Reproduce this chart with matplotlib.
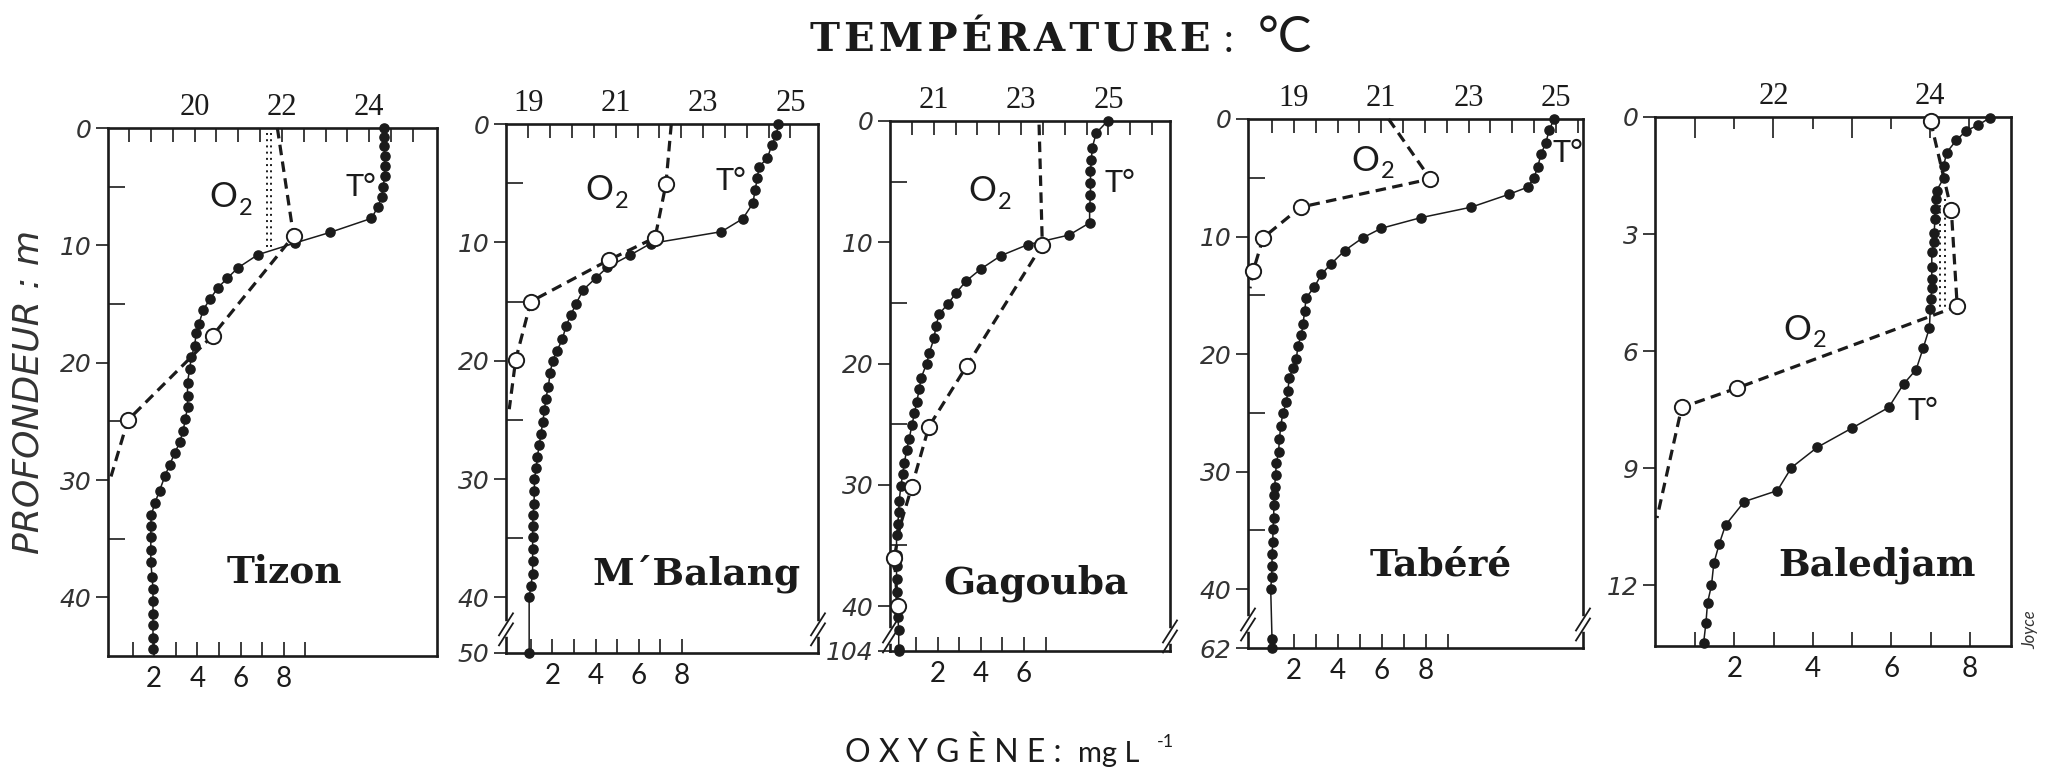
import numpy as np
import matplotlib
matplotlib.use("Agg")
import matplotlib.pyplot as plt
from matplotlib.lines import Line2D

INK = "#1b1b1b"
W, H = 2046, 773
SERIF = "DejaVu Serif"
NUMSERIF = "Liberation Serif"
SANS = "Lato"
OBL = "DejaVu Sans"

# ---------------- data: Tizon ----------------
tizon_t_depth = [0, 0.8, 1.5, 2.4, 3.2, 4.1, 5.0, 5.9, 6.7, 7.7,
                 8.9, 9.8, 10.8, 11.9, 12.8, 13.6, 14.6, 15.5, 16.7, 17.5,
                 18.6, 19.5, 20.5, 21.7, 22.8, 23.8, 24.8, 25.8, 26.8, 27.7,
                 28.7, 29.7, 30.9, 32.0, 33.0, 33.9, 34.9, 36.0, 37.0, 38.3,
                 39.3, 40.3, 41.4, 42.4, 43.5, 44.4]
tizon_temp = [24.34, 24.34, 24.34, 24.35, 24.35, 24.35, 24.32, 24.28, 24.2, 24.05,
              23.1, 22.3, 21.45, 21.0, 20.75, 20.54, 20.35, 20.2, 20.1, 20.04,
              20.0, 19.93, 19.89, 19.84, 19.84, 19.84, 19.79, 19.74, 19.66, 19.55,
              19.43, 19.32, 19.2, 19.09, 19.01, 19.0, 19.0, 19.0, 19.0, 19.03,
              19.05, 19.05, 19.05, 19.05, 19.05, 19.05]
tizon_o2_depth = [0, 9.2, 17.7, 24.9, 29.7]
tizon_o2 = [7.7, 8.45, 4.7, 0.78, 0.0]
tizon_o2_marked = [1, 2, 3]

# ---------------- data: M'Balang ----------------
mbalang_t_depth = [0, 0.9, 1.8, 2.9, 3.6, 4.6, 5.6, 6.7, 8.0, 9.1,
                   10.1, 11.1, 12.1, 13.0, 14.0, 15.2, 16.1, 17.1, 18.2, 19.2,
                   20.0, 21.0, 22.2, 23.2, 24.2, 25.2, 26.2, 27.1, 28.1, 29.1,
                   30.0, 31.0, 32.1, 33.0, 34.0, 34.9, 35.9, 36.9, 38.0, 39.0,
                   40.0, 50.0]
mbalang_temp = [24.72, 24.68, 24.57, 24.47, 24.28, 24.24, 24.19, 24.14, 23.91, 23.42,
                21.80, 21.32, 20.81, 20.55, 20.26, 20.09, 19.98, 19.86, 19.78, 19.65,
                19.56, 19.50, 19.46, 19.40, 19.37, 19.33, 19.29, 19.25, 19.21, 19.18,
                19.14, 19.14, 19.13, 19.11, 19.10, 19.10, 19.10, 19.10, 19.10, 19.06,
                19.02, 19.02]
mbalang_o2_depth = [0, 5.1, 9.6, 11.5, 15.0, 19.9, 24.1]
mbalang_o2 = [7.5, 7.25, 6.75, 4.6, 1.0, 0.3, 0.0]
mbalang_o2_marked = [1, 2, 3, 4, 5]

# ---------------- data: Gagouba ----------------
gagouba_t_depth = [0, 1.0, 2.2, 3.2, 4.1, 5.1, 6.1, 7.1, 8.4, 9.4,
                   10.2, 11.1, 12.2, 13.2, 14.2, 15.1, 15.9, 16.9, 17.9, 19.1,
                   20.0, 21.2, 22.1, 23.2, 24.1, 25.1, 26.2, 27.1, 28.2, 29.1,
                   30.1, 31.3, 32.2, 33.2, 34.1, 35.8, 36.7, 37.8, 38.8, 39.9,
                   40.9, 42.0, 95, 104]
gagouba_temp = [24.98, 24.72, 24.63, 24.61, 24.59, 24.59, 24.59, 24.57, 24.57, 24.1,
                23.15, 22.54, 22.08, 21.74, 21.51, 21.32, 21.13, 21.05, 21.01, 20.9,
                20.84, 20.71, 20.67, 20.61, 20.56, 20.5, 20.44, 20.38, 20.33, 20.29,
                20.25, 20.21, 20.2, 20.18, 20.15, 20.15, 20.15, 20.15, 20.15, 20.15,
                20.18, 20.2, 20.2, 20.2]
gagouba_o2_depth = [0.3, 10.2, 20.2, 25.2, 30.2, 33.5, 36.0, 40.0]
gagouba_o2 = [6.7, 6.85, 3.35, 1.6, 0.8, 0.25, 0.0, 0.15]
gagouba_o2_marked = [1, 2, 3, 4, 6, 7]

# ---------------- data: Tabéré ----------------
tabere_t_depth = [0, 0.9, 2.0, 3.0, 4.1, 5.0, 5.8, 6.4, 7.5, 8.4,
                  9.3, 10.1, 11.2, 12.3, 13.2, 14.3, 15.2, 16.3, 17.4, 18.4,
                  19.3, 20.4, 21.2, 22.0, 23.1, 24.1, 25.0, 26.1, 27.2, 28.3,
                  29.3, 30.3, 31.3, 32.0, 32.8, 33.9, 34.9, 36.0, 37.0, 38.0,
                  39.0, 40.0, 55, 62]
tabere_temp = [24.96, 24.85, 24.77, 24.66, 24.58, 24.50, 24.35, 23.93, 23.06, 21.90,
               21.0, 20.58, 20.16, 19.86, 19.63, 19.47, 19.28, 19.25, 19.21, 19.17,
               19.09, 19.06, 18.98, 18.9, 18.86, 18.83, 18.75, 18.7, 18.67, 18.65,
               18.6, 18.58, 18.56, 18.54, 18.54, 18.54, 18.52, 18.52, 18.5, 18.5,
               18.49, 18.47, 18.5, 18.5]
tabere_o2_depth = [0, 5.1, 7.5, 10.1, 12.9, 14.4]
tabere_o2 = [6.3, 8.2, 2.3, 0.6, 0.15, 0.0]
tabere_o2_marked = [1, 2, 3, 4]

# ---------------- data: Baledjam ----------------
baledjam_t_depth = [0.02, 0.21, 0.35, 0.6, 0.91, 1.26, 1.57, 1.89, 2.1, 2.36,
                    2.62, 2.97, 3.2, 3.46, 3.83, 4.14, 4.37, 4.65, 4.93, 5.4,
                    5.92, 6.47, 6.84, 7.44, 7.97, 8.46, 8.98, 9.57, 9.85, 10.45,
                    10.93, 11.43, 12.0, 12.44, 12.95, 13.47]
baledjam_temp = [24.76, 24.61, 24.46, 24.33, 24.21, 24.17, 24.17, 24.08, 24.07, 24.06,
                 24.06, 24.05, 24.05, 24.02, 24.02, 24.02, 24.02, 24.01, 24.0, 23.99,
                 23.91, 23.82, 23.66, 23.47, 23.0, 22.56, 22.23, 22.05, 21.63, 21.39,
                 21.31, 21.24, 21.21, 21.16, 21.14, 21.11]
baledjam_o2_depth = [0.1, 2.38, 4.85, 6.94, 7.44, 10.27]
baledjam_o2 = [7.0, 7.53, 7.68, 2.08, 0.66, 0.03]
baledjam_o2_marked = [0, 1, 2, 3, 4]

# ---------------- figure ----------------
fig = plt.figure(figsize=(W / 100, H / 100), dpi=100)
fig.patch.set_facecolor("white")


def px_rect(x0, x1, y0, y1):
    return [x0 / W, 1 - y1 / H, (x1 - x0) / W, (y1 - y0) / H]


def depth_scale(brk, shown, real):
    """Linear depth down to brk, then the deep part squeezed into shown-brk."""
    k = (shown - brk) / (real - brk)

    def fwd(d):
        d = np.asarray(d, float)
        return np.where(d <= brk, d, brk + (d - brk) * k)

    def inv(y):
        y = np.asarray(y, float)
        return np.where(y <= brk, y, brk + (y - brk) / k)

    return fwd, inv


def fmt(v):
    return str(int(round(v)))


def panel(rect, t_lim, t_ticks, t_named, o_lim, o_ticks, o_named,
          d_max, d_major, d_minor, brk=None, long_int=False):
    ax = fig.add_axes(rect)
    if brk is not None:
        ax.set_yscale("function", functions=depth_scale(*brk))
    ax.set_ylim(d_max, 0)
    ax.set_xlim(*t_lim)
    axo = ax.twiny()
    axo.set_xlim(*o_lim)
    ax.xaxis.tick_top()
    axo.xaxis.tick_bottom()

    # temperature scale on top
    t_ticks = np.asarray(t_ticks)
    ints = [v for v in t_ticks if abs(v - round(v)) < 1e-6]
    halves = [v for v in t_ticks if abs(v - round(v)) >= 1e-6]
    ax.set_xticks(ints)
    ax.set_xticklabels([fmt(v) if any(np.isclose(v, t_named)) else "" for v in ints],
                       fontfamily=NUMSERIF, fontsize=22, color=INK)
    ax.set_xticks(halves, minor=True)
    ax.tick_params(axis="x", which="major", direction="in", top=True, bottom=False,
                   length=15 if long_int else 10, width=1.2, color=INK, pad=4)
    ax.tick_params(axis="x", which="minor", direction="in", top=True, bottom=False,
                   length=8.5 if long_int else 10, width=1.2, color=INK)

    # oxygen scale at the bottom
    axo.set_xticks(o_ticks)
    axo.set_xticklabels([fmt(v) if v in o_named else "" for v in o_ticks],
                        fontfamily=SANS, fontsize=20, color=INK)
    axo.tick_params(axis="x", which="major", direction="in", bottom=True, top=False,
                    length=10, width=1.2, color=INK, pad=7)
    axo.xaxis.set_minor_locator(matplotlib.ticker.NullLocator())

    # depth
    d_vals = [v for v, _ in d_major]
    ax.set_yticks(d_vals)
    ax.set_yticklabels([s for _, s in d_major], fontfamily=OBL, style="italic",
                       fontsize=18, color="#333333")
    ax.set_yticks(d_minor, minor=True)
    ax.tick_params(axis="y", which="major", direction="out", left=True, right=False,
                   length=9, width=1.2, color=INK, pad=3)
    ax.tick_params(axis="y", which="minor", direction="in", left=True, right=False,
                   length=12, width=1.2, color=INK)

    for s in ax.spines.values():
        s.set_linewidth(1.9)
        s.set_color(INK)
    for s in axo.spines.values():
        s.set_visible(False)

    if brk is not None:
        b, shown, _ = brk
        fy = 1 - b / shown
        wpx = rect[2] * W
        hpx = rect[3] * H
        for xs in (0.0, 1.0):
            ax.add_line(Line2D([xs, xs], [fy - 5 / hpx, fy + 5 / hpx], transform=ax.transAxes,
                               color="white", lw=4, clip_on=False, zorder=6))
            for off in (-5, 5):
                ax.add_line(Line2D([xs - 7 / wpx, xs + 7 / wpx],
                                   [fy + (off - 11) / hpx, fy + (off + 11) / hpx],
                                   transform=ax.transAxes, color=INK, lw=1.3,
                                   clip_on=False, zorder=7))
    return ax, axo


def draw_profiles(ax, axo, t_depth, temp, o_depth, o2, marked):
    ax.plot(temp, t_depth, color=INK, lw=1.1, marker="o", ms=6.6, mfc=INK, mec=INK,
            zorder=3, clip_on=False)
    axo.plot(o2, o_depth, color=INK, lw=2.3, ls=(0, (3.3, 2.0)), marker="o", ms=11,
             mfc="white", mec=INK, mew=1.4, markevery=marked, zorder=4, clip_on=False)


def tags(ax, o_pos, t_pos, name, name_pos):
    tr = ax.get_yaxis_transform()
    ax.text(o_pos[0], o_pos[1], "O", transform=tr, ha="center", va="center",
            fontfamily=SANS, fontsize=25, color=INK, zorder=8)
    ax.annotate("2", xy=o_pos, xycoords=tr, xytext=(16, -8), textcoords="offset points",
                ha="center", va="center", fontfamily=SANS,
                fontsize=17, color=INK, zorder=8)
    ax.text(t_pos[0], t_pos[1], "T°", transform=tr, ha="center", va="center",
            fontfamily=SANS, fontsize=22, color=INK, zorder=8)
    ax.text(name_pos[0], name_pos[1], name, transform=tr, ha="center", va="center",
            fontfamily=SERIF, fontweight="bold", fontsize=27, color=INK, zorder=8)


deep_major = [(0, "0"), (10, "10"), (20, "20"), (30, "30"), (40, "40")]
deep_minor = [5, 15, 25, 35]

# Tizon
ax, axo = panel(px_rect(108, 437, 128, 656), (18.02, 25.55), np.arange(18.5, 25.01, 0.5),
                [20, 22, 24], (-0.14, 15.09), list(range(1, 10)), [2, 4, 6, 8],
                45.0, deep_major, deep_minor)
for xo in (7.2, 7.42):
    axo.plot([xo, xo], [0.4, 10.3], color=INK, lw=1.4, ls=(0, (1, 2.2)), zorder=2)
draw_profiles(ax, axo, tizon_t_depth, tizon_temp, tizon_o2_depth, tizon_o2, tizon_o2_marked)
tags(ax, (0.35, 5.9), (0.77, 5.0), "Tizon", (0.535, 37.8))

# M'Balang
ax, axo = panel(px_rect(506, 818, 124, 653), (18.49, 25.63), np.arange(19.0, 25.01, 0.5),
                [19, 21, 23, 25], (-0.15, 14.29), list(range(1, 9)), [2, 4, 6, 8],
                50.0, deep_major + [(50, "50")], deep_minor, brk=(42.7, 44.7, 50.0))
draw_profiles(ax, axo, mbalang_t_depth, mbalang_temp, mbalang_o2_depth, mbalang_o2,
              mbalang_o2_marked)
tags(ax, (0.30, 5.6), (0.72, 4.8), "M´Balang", (0.61, 38.0))

# Gagouba
ax, axo = panel(px_rect(890, 1170, 121, 651), (20.0, 26.41), np.arange(20.5, 26.01, 0.5),
                [21, 23, 25], (-0.2, 12.76), list(range(1, 8)), [2, 4, 6],
                104.0, deep_major + [(104, "104")], deep_minor, brk=(42.5, 43.7, 104.0))
draw_profiles(ax, axo, gagouba_t_depth, gagouba_temp, gagouba_o2_depth, gagouba_o2,
              gagouba_o2_marked)
tags(ax, (0.33, 5.8), (0.82, 5.1), "Gagouba", (0.52, 38.1))

# Tabéré
ax, axo = panel(px_rect(1248, 1583, 119, 648), (17.95, 25.62), np.arange(18.5, 25.51, 0.5),
                [19, 21, 23, 25], (-0.09, 15.14), list(range(1, 10)), [2, 4, 6, 8],
                62.0, deep_major + [(62, "62")], deep_minor, brk=(43.0, 45.0, 62.0))
draw_profiles(ax, axo, tabere_t_depth, tabere_temp, tabere_o2_depth, tabere_o2,
              tabere_o2_marked)
tags(ax, (0.35, 3.55), (0.955, 2.86), "Tabéré", (0.574, 37.9))

# Baledjam
ax, axo = panel(px_rect(1655, 2011, 117, 646), (20.49, 25.03), np.arange(21.0, 24.51, 0.5),
                [22, 24], (-0.02, 9.05), list(range(1, 9)), [2, 4, 6, 8],
                13.55, [(0, "0"), (3, "3"), (6, "6"), (9, "9"), (12, "12")], [],
                long_int=True)
for xo in (7.24, 7.36):
    axo.plot([xo, xo], [2.1, 4.9], color=INK, lw=1.4, ls=(0, (1, 2.2)), zorder=2)
draw_profiles(ax, axo, baledjam_t_depth, baledjam_temp, baledjam_o2_depth, baledjam_o2,
              baledjam_o2_marked)
tags(ax, (0.40, 5.45), (0.753, 7.52), "Baledjam", (0.624, 11.48))

# ---------------- shared labels ----------------
fig.text(810 / W, 1 - 52 / H, "T\u200aE\u200aM\u200aP\u200aÉ\u200aR\u200aA\u200aT\u200aU\u200aR\u200aE",
         ha="left", va="baseline", fontfamily=SERIF, fontweight="bold", fontsize=29, color=INK)
fig.text(1224 / W, 1 - 52 / H, ":", ha="left", va="baseline", fontfamily=SANS,
         fontsize=28, color=INK)
fig.text(1258 / W, 1 - 52 / H, "°C", ha="left", va="baseline", fontfamily=SANS,
         fontsize=36, color=INK)

fig.text(845 / W, 1 - 762 / H, "O X Y G È N E :", ha="left", va="baseline",
         fontfamily=SANS, fontsize=23, color=INK)
fig.text(1078 / W, 1 - 762 / H, "mg L", ha="left", va="baseline",
         fontfamily=SANS, fontsize=21, color=INK)
fig.text(1157 / W, 1 - 747 / H, "-1", ha="left", va="baseline",
         fontfamily=SANS, fontsize=13, color=INK)

fig.text(29 / W, 1 - 392 / H, "PROFONDEUR : m", rotation=90, ha="center", va="center",
         fontfamily=OBL, style="italic", fontsize=26, color="#333333")
fig.text(2030 / W, 1 - 630 / H, "Joyce", rotation=90, ha="center", va="center",
         fontfamily=SANS, style="italic", fontsize=12, color="#333333")

fig.savefig("out.png", dpi=100, facecolor="white")
